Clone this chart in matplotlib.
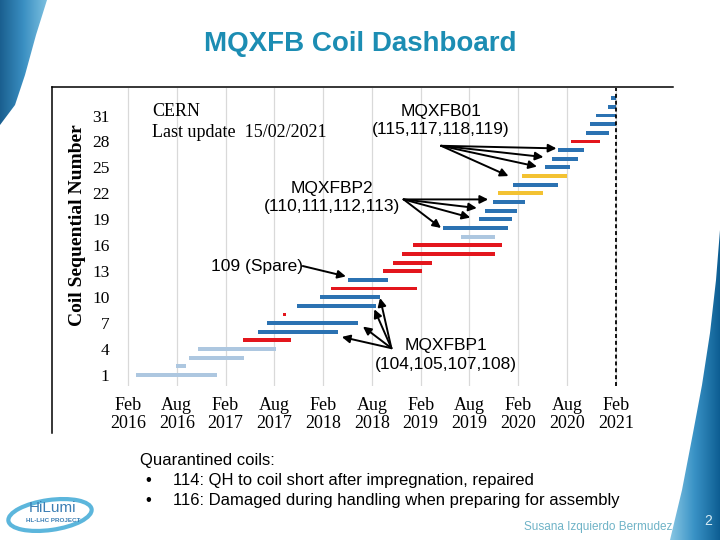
import matplotlib
matplotlib.use('Agg')
import matplotlib.pyplot as plt
import numpy as np
from matplotlib.patches import Polygon, Ellipse
from matplotlib.lines import Line2D

# coil production timeline, months counted from Feb 2016
coils = list(range(1, 34))
start_month = [1.0, 5.9, 7.5, 8.6, 14.1, 16.0, 17.1, 19.1, 20.8, 23.6, 25.0,
               27.0, 31.4, 32.6, 33.7, 35.1, 41.0, 38.7, 43.2, 43.9, 44.9, 45.5,
               47.4, 48.5, 51.3, 52.2, 52.9, 54.5, 56.3, 56.8, 57.6, 59.0, 59.4]
end_month = [11.0, 7.1, 14.3, 18.2, 20.1, 25.8, 28.3, 19.4, 30.5, 31.0, 35.5,
             32.0, 36.2, 37.4, 45.1, 46.0, 45.1, 46.8, 47.2, 47.9, 48.8, 51.0,
             52.9, 54.0, 54.4, 55.3, 56.1, 58.1, 59.2, 60.0, 60.0, 60.0, 60.0]
status = ['practice'] * 4 + ['rejected', 'good', 'good', 'rejected', 'good',
          'good', 'rejected', 'good', 'rejected', 'rejected', 'rejected',
          'rejected', 'practice', 'good', 'good', 'good', 'good', 'quarantine',
          'good', 'quarantine', 'good', 'good', 'good', 'rejected', 'good',
          'good', 'good', 'good', 'good']
status_colors = {'practice': '#adc7e0', 'good': '#2b72b2',
                 'rejected': '#e3161d', 'quarantine': '#f3c232'}

tick_months = [0, 6, 12, 18, 24, 30, 36, 42, 48, 54, 60]
tick_labels = ['Feb\n2016', 'Aug\n2016', 'Feb\n2017', 'Aug\n2017', 'Feb\n2018',
               'Aug\n2018', 'Feb\n2019', 'Aug\n2019', 'Feb\n2020', 'Aug\n2020',
               'Feb\n2021']
y_ticks = [1, 4, 7, 10, 13, 16, 19, 22, 25, 28, 31]
last_update = 60.0

serif = 'Liberation Serif'
sans = 'Liberation Sans'

fig = plt.figure(figsize=(7.2, 5.4), dpi=100)

# slide background decorations (pixel coordinates)
bg = fig.add_axes([0, 0, 1, 1], zorder=0)
bg.set_xlim(0, 720)
bg.set_ylim(540, 0)
bg.axis('off')

grad = np.linspace(0, 1, 256).reshape(1, -1)
left_shape = Polygon([(0, 0), (47, 0), (36, 35), (25, 75), (15, 105), (0, 125)],
                     closed=True, facecolor='none', edgecolor='none')
bg.add_patch(left_shape)
im = bg.imshow(grad, extent=[0, 47, 125, 0], cmap=matplotlib.colors.LinearSegmentedColormap.from_list(
    'l', ['#1a5f8f', '#3a8fc2', '#7cc0e0']), aspect='auto')
im.set_clip_path(left_shape)

right_shape = Polygon([(720, 230), (716, 280), (710, 333), (702, 385), (693, 433),
                       (682, 490), (670, 540), (720, 540)], closed=True,
                      facecolor='none', edgecolor='none')
bg.add_patch(right_shape)
im2 = bg.imshow(grad, extent=[668, 720, 540, 230], cmap=matplotlib.colors.LinearSegmentedColormap.from_list(
    'r', ['#8fcbe6', '#3a93c6', '#0d5e93']), aspect='auto')
im2.set_clip_path(right_shape)

bg.text(708, 521, '2', color='#d7ecf5', fontsize=10, family=sans,
        ha='center', va='center')

# HiLumi logo
bg.add_patch(Ellipse((50, 515), 84, 30, angle=-8, facecolor='none',
                     edgecolor='#5cb6dc', lw=3))
bg.text(53, 508, 'HiLumi', color='#3c7fb4', fontsize=11, family=sans,
        ha='center', va='center')
bg.text(53, 520, 'HL-LHC PROJECT', color='#3c7fb4', fontsize=4.5, family=sans,
        ha='center', va='center', fontweight='bold')

# title
bg.text(360, 44, 'MQXFB Coil Dashboard', color='#1c8db3', fontsize=20,
        fontweight='bold', family=sans, ha='center', va='center')

# frame of the chart picture
fig.add_artist(Line2D([52 / 720, 52 / 720], [1 - 433 / 540, 1 - 87 / 540],
                      color='black', lw=1.1))
fig.add_artist(Line2D([52 / 720, 673 / 720], [1 - 87 / 540, 1 - 87 / 540],
                      color='black', lw=1.1))

# bottom text
bg.text(140, 460, 'Quarantined coils:', fontsize=12, family=sans,
        va='center', ha='left')
bg.text(145, 480, '•', fontsize=12, family=sans, va='center')
bg.text(173, 480, '114: QH to coil short after impregnation, repaired',
        fontsize=12, family=sans, va='center')
bg.text(145, 501, '•', fontsize=12, family=sans, va='center')
bg.text(173, 501, '116: Damaged during handling when preparing for assembly',
        fontsize=12, family=sans, va='center')
bg.text(672, 527, 'Susana Izquierdo Bermudez', fontsize=8.5, family=sans,
        color='#6fb3c7', ha='right', va='center')

# chart
ax = fig.add_axes([118 / 720, 1 - 386 / 540, 550 / 720, 298 / 540], zorder=1)
ax.set_facecolor('none')
colors = [status_colors[s] for s in status]
widths = [e - s for s, e in zip(start_month, end_month)]
ax.barh(coils, widths, left=start_month, height=0.45, color=colors, zorder=3)

ax.set_xlim(-1.23, 66.42)
ax.set_ylim(-0.27, 34.18)
ax.set_xticks(tick_months)
ax.set_xticklabels(tick_labels, family=serif, fontsize=13, linespacing=1.05)
ax.set_yticks(y_ticks)
ax.set_yticklabels([str(v) for v in y_ticks], family=serif, fontsize=12.5)
ax.tick_params(length=0, pad=6)
ax.tick_params(axis='x', pad=8)
for sp in ax.spines.values():
    sp.set_visible(False)
ax.grid(axis='x', color='#d9d9d9', lw=0.9, zorder=0)
ax.axvline(last_update, color='black', ls=(0, (2.2, 1.6)), lw=1.3, zorder=4)
ax.set_ylabel('Coil Sequential Number', family=serif, fontsize=14,
              fontweight='bold')
ax.yaxis.set_label_coords(-0.058, 0.54)

ax.text(2.95, 30.25, 'CERN\nLast update  15/02/2021', family=serif, fontsize=13,
        ha='left', va='center', linespacing=1.25)

arrow = dict(arrowstyle='-|>', color='black', lw=1.4, mutation_scale=12,
             shrinkA=0, shrinkB=0)

ax.text(38.5, 30.4, 'MQXFB01\n(115,117,118,119)', family=sans, fontsize=12.5,
        ha='center', va='center', linespacing=1.3)
for tx, ty in [(52.7, 27.2), (51.1, 26.2), (50.3, 25.1), (46.8, 24.0)]:
    ax.annotate('', xy=(tx, ty), xytext=(38.5, 27.5), arrowprops=arrow, zorder=5)

ax.text(25.1, 21.5, 'MQXFBP2\n(110,111,112,113)', family=sans, fontsize=12.5,
        ha='center', va='center', linespacing=1.3)
for tx, ty in [(44.3, 21.3), (42.9, 20.3), (42.1, 19.2), (38.5, 18.0)]:
    ax.annotate('', xy=(tx, ty), xytext=(33.9, 21.3), arrowprops=arrow, zorder=5)

ax.text(21.5, 13.6, '109 (Spare)', family=sans, fontsize=12.5,
        ha='right', va='center')
ax.annotate('', xy=(26.8, 12.4), xytext=(21.5, 13.6), arrowprops=arrow, zorder=5)

ax.text(39.1, 3.3, 'MQXFBP1\n(104,105,107,108)', family=sans, fontsize=12.5,
        ha='center', va='center', linespacing=1.3)
for tx, ty in [(31.0, 9.9), (30.3, 8.6), (28.9, 6.6), (26.3, 5.4)]:
    ax.annotate('', xy=(tx, ty), xytext=(32.4, 4.1), arrowprops=arrow, zorder=5)

fig.savefig('out.png', dpi=100)
